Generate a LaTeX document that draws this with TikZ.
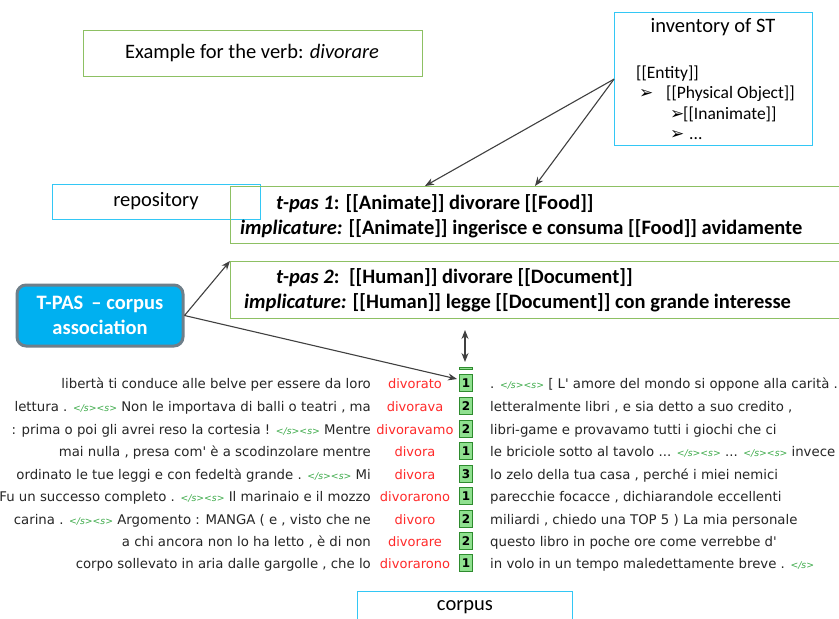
\documentclass[tikz,border=0pt]{standalone}
\usepackage{fontspec}
\setmainfont{Carlito}
\newfontfamily\corpfont{DejaVu Sans}
\newfontfamily\symfont{DejaVu Sans}
\usetikzlibrary{arrows.meta}
\definecolor{boxgreen}{HTML}{8DC063}
\definecolor{boxcyan}{HTML}{33C7F5}
\definecolor{assocfill}{HTML}{00B0F0}
\definecolor{assocedge}{HTML}{6E7F8A}
\definecolor{kwred}{HTML}{FF2A2A}
\definecolor{taggreen}{HTML}{3DAA4A}
\definecolor{numfill}{HTML}{8FE08F}
\definecolor{numedge}{HTML}{2E8B2E}
\definecolor{arrgray}{HTML}{404040}
\newcommand\tg{{\color{taggreen}\fontsize{9.3}{11}\selectfont\itshape </s><s>}}
\newcommand\tge{{\color{taggreen}\fontsize{9.3}{11}\selectfont\itshape </s>}}
\begin{document}
\begin{tikzpicture}[x=1pt,y=-1pt,
  gbox/.style={draw=boxgreen,line width=1.3pt,inner sep=0pt,anchor=north west},
  cbox/.style={draw=boxcyan,line width=1.3pt,inner sep=0pt,anchor=north west},
  lbl/.style={inner sep=0pt,font=\fontsize{20.5}{24}\selectfont},
  tpas/.style={inner sep=0pt,anchor=base west,font=\fontsize{20.5}{24}\selectfont\bfseries},
  inv/.style={inner sep=0pt,anchor=base west,font=\fontsize{17.5}{20}\selectfont},
  invarr/.style={inner sep=0pt,anchor=base west,font=\symfont\fontsize{17}{18}\selectfont},
  ctx/.style={inner sep=0pt,font=\corpfont\fontsize{13.3}{15}\selectfont,text=black!85},
  kw/.style={inner sep=0pt,font=\corpfont\fontsize{13}{15}\selectfont,text=kwred},
  nbox/.style={draw=numedge,fill=numfill,line width=1pt,minimum width=12.5pt,minimum height=17.5pt,inner sep=0pt,font=\corpfont\bfseries\fontsize{12}{14}\selectfont},
  arr/.style={draw=arrgray,line width=1.1pt,-{Stealth[length=9pt,width=7pt]}},
  darr/.style={draw=arrgray,line width=1.1pt,{Stealth[length=9pt,width=7pt]}-{Stealth[length=9pt,width=7pt]}}]
\clip (0,0) rectangle (839,619);
\fill[white] (0,0) rectangle (839,619);

% boxes
\node[gbox,minimum width=339pt,minimum height=46pt] (ex) at (83,30) {};
\node[lbl] (ext) at (252,53) {Example for the verb: \textit{divorare}};

\node[cbox,minimum width=198pt,minimum height=133pt] (invb) at (614,12) {};
\node[lbl] (invt) at (713,27) {inventory of ST};
\node[inv] (e1) at (636,78) {[[Entity]]};
\node[invarr] (a2) at (639,98) {➢};
\node[inv] (e2) at (666,98) {[[Physical Object]]};
\node[invarr] (a3) at (670,119) {➢};
\node[inv] (e3) at (683,119) {[[Inanimate]]};
\node[invarr] (a4) at (670,139) {➢};
\node[inv] (e4) at (689,139) {...};

\node[cbox,minimum width=208pt,minimum height=35pt] (rep) at (52,184) {};
\node[lbl] (rept) at (156,201) {repository};

\node[gbox,minimum width=640pt,minimum height=57pt] (t1) at (230,186) {};
\node[tpas] (t1a) at (276,209) {\textit{t-pas 1}: [[Animate]] divorare [[Food]]};
\node[tpas] (t1b) at (240,234) {\textit{implicature:} [[Animate]] ingerisce e consuma [[Food]] avidamente};

\node[gbox,minimum width=640pt,minimum height=57pt] (t2) at (230,261) {};
\node[tpas] (t2a) at (276,283) {\textit{t-pas 2}:\, [[Human]] divorare [[Document]]};
\node[tpas] (t2b) at (244,308) {\textit{implicature:} [[Human]] legge [[Document]] con grande interesse};

\node[draw=assocedge,fill=assocfill,line width=3pt,rounded corners=9pt,minimum width=166pt,minimum height=61pt,
      align=center,text=white,font=\fontsize{20.5}{25}\selectfont\bfseries] (assoc) at (100,315.5)
      {T-PAS \,– corpus\\association};

\node[cbox,minimum width=215pt,minimum height=45pt] (corp) at (357,591) {};
\node[lbl] (corpt) at (465,607) {corpus};

% corpus rows
\newcommand\crow[6]{%
  \node[ctx,anchor=base east] (L#1) at (371,#2) {#3};
  \node[kw,anchor=base] (K#1) at (415,#2) {#4};
  \node[nbox] (N#1) at (466,#2-5) {#5};
  \node[ctx,anchor=base west] (R#1) at (490,#2) {#6};}
\node[draw=numedge,fill=numfill,line width=0.8pt,minimum width=12.5pt,minimum height=2.5pt,inner sep=0pt,anchor=south] (N0) at (466,370) {};
\crow{1}{388}{libertà ti conduce alle belve per essere da loro}{divorato}{1}{. \tg{} [ L' amore del mondo si oppone alla carità . \tg}
\crow{2}{411}{lettura . \tg{} Non le importava di balli o teatri , ma}{divorava}{2}{letteralmente libri , e sia detto a suo credito ,}
\crow{3}{434}{: prima o poi gli avrei reso la cortesia ! \tg{} Mentre}{divoravamo}{2}{libri-game e provavamo tutti i giochi che ci}
\crow{4}{456}{mai nulla , presa com' è a scodinzolare mentre}{divora}{1}{le briciole sotto al tavolo ... \tg{} ... \tg{} invece}
\crow{5}{479}{ordinato le tue leggi e con fedeltà grande . \tg{} Mi}{divora}{3}{lo zelo della tua casa , perché i miei nemici}
\crow{6}{501}{Fu un successo completo . \tg{} Il marinaio e il mozzo}{divorarono}{1}{parecchie focacce , dichiarandole eccellenti}
\crow{7}{524}{carina . \tg{} Argomento : MANGA ( e , visto che ne}{divoro}{2}{miliardi , chiedo una TOP 5 ) La mia personale}
\crow{8}{546}{a chi ancora non lo ha letto , è di non}{divorare}{2}{questo libro in poche ore come verrebbe d'}
\crow{9}{568}{corpo sollevato in aria dalle gargolle , che lo}{divorarono}{1}{in volo in un tempo maledettamente breve . \tge}

% connectors
\coordinate (p1) at (425,186);
\coordinate (p2) at (535,186);
\coordinate (p3) at (457,379);
\coordinate (d1) at (465,330);
\coordinate (d2) at (465,362);
\draw[arr] (invb.west) -- (p1);
\draw[arr] (invb.west) -- (p2);
\draw[arr] (assoc.east) -- (t2.north west);
\draw[arr] (assoc.east) -- (p3);
\draw[darr] (d1) -- (d2);
\end{tikzpicture}
\end{document}
